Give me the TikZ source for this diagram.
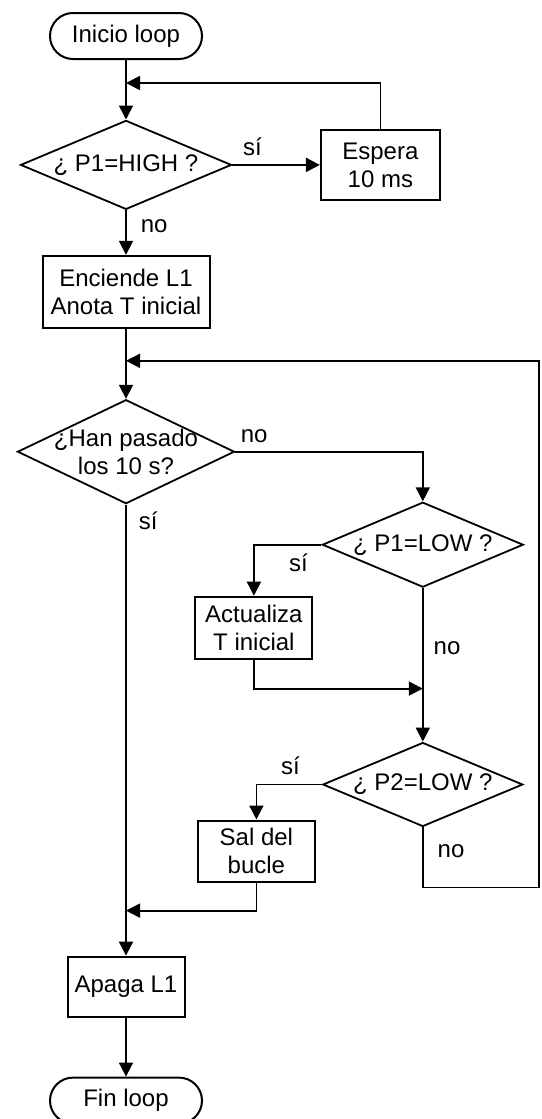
\documentclass[tikz,border=0pt]{standalone}
\usepackage{fontspec}
\setmainfont{Liberation Sans}
\usetikzlibrary{shapes.geometric, arrows.meta, positioning}

\begin{document}
\begin{tikzpicture}[
  font=\fontsize{12}{14}\selectfont,
  node distance=30pt,
  term/.style={rectangle, draw=black, rounded corners=11.5pt, line width=1pt,
               minimum width=76pt, minimum height=23pt, inner sep=0pt},
  proc/.style={rectangle, draw=black, line width=1pt, align=center,
               minimum width=58.5pt, minimum height=30.5pt, inner sep=0pt},
  decision/.style={diamond, draw=black, line width=0.9pt, inner sep=0pt,
                   minimum width=100.5pt, minimum height=42.5pt},
  qtext/.style={align=center, inner sep=0pt},
  lbl/.style={inner sep=1pt},
  arr/.style={-{Triangle[length=7pt, width=7pt]}, line width=0.9pt}
]
  \useasboundingbox (0,0) rectangle (270.5pt,-559.5pt);

  \node[term] (start) at (63pt,-18pt) {Inicio loop};
  \node[decision, minimum width=105.5pt, minimum height=44.5pt, below=29.75pt of start,
        label={[qtext]center:¿ P1=HIGH ?}] (q1) {};
  \node[proc, minimum width=59.5pt, minimum height=35pt, right=43.75pt of q1] (wait) {Espera\\10 ms};
  \node[proc, minimum width=83.5pt, minimum height=36pt, below=22.25pt of q1] (led) {Enciende L1\\Anota T inicial};
  \node[decision, minimum width=108.5pt, minimum height=52pt, below=35pt of led,
        label={[qtext]center:¿Han pasado\\los 10 s?}] (q2) {};
  \node[decision, right=43pt of q2, yshift=-46.5pt,
        label={[qtext]center:¿ P1=LOW ?}] (q3) {};
  \node[proc, minimum height=31pt, below left=25.5pt and 4pt of q3.west] (upd) {Actualiza\\T inicial};
  \node[decision, minimum width=100pt, minimum height=42pt, below=76.75pt of q3,
        label={[qtext]center:¿ P2=LOW ?}] (q4) {};
  \node[proc, below left=17.5pt and 3pt of q4.west] (quit) {Sal del\\bucle};
  \node[proc, minimum height=30pt, below=225.5pt of q2] (off) {Apaga L1};
  \node[term, below=29.5pt of off] (finish) {Fin loop};

  % junction points on the main line
  \coordinate[below=11.5pt of start.south] (j1);
  \coordinate[below=16pt of led.south] (j2);
  \coordinate[below=50.25pt of q3.south] (j3);
  \coordinate[below=203pt of q2.south] (j4);

  \draw[arr] (start) -- (q1);
  \draw[arr] (q1) -- node[lbl, pos=0.23, above=3pt]{sí} (wait);
  \draw[arr] (wait.north) |- (j1);
  \draw[arr] (q1) -- node[lbl, pos=0.36, right=6pt]{no} (led);
  \draw[arr] (led) -- (q2);
  \draw[arr] (q2.east) -| node[lbl, pos=0.05, above=3pt]{no} (q3.north);
  \draw[arr] (q2) -- node[lbl, pos=0.035, right=5pt]{sí} (off);
  \draw[arr] (q3.west) -| node[lbl, pos=0.17, below=3pt]{sí} (upd.north);
  \draw[arr] (q3) -- node[lbl, pos=0.39, right=4pt]{no} (q4);
  \draw[arr] (upd.south) |- (j3);
  \draw[arr] (q4.west) -| node[lbl, pos=0.24, above=3.5pt]{sí} (quit.north);
  \draw[arr] (q4.south) -- node[lbl, pos=0.39, right=6pt]{no} ++(0,-30pt) -- ++(58pt,0) |- (j2);
  \draw[arr] (quit.south) |- (j4);
  \draw[arr] (off) -- (finish);
\end{tikzpicture}
\end{document}
